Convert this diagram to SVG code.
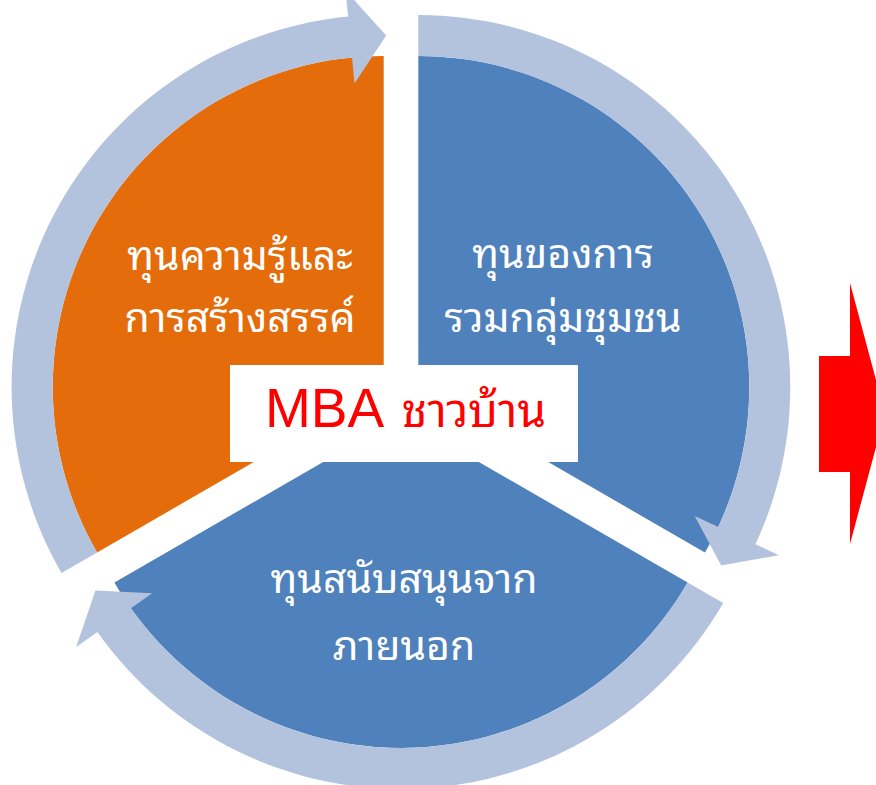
<svg xmlns="http://www.w3.org/2000/svg" width="876" height="785" viewBox="0 0 876 785">
<style>
.orange{fill:#E46C0A}
.blue{fill:#4F81BD}
.ring{fill:#B3C2DD}
.lbl{fill:#FFFFFF;font-family:"Noto Sans Thai Looped","Noto Sans Thai","Noto Sans",sans-serif;font-size:41px;text-anchor:middle}
.red{fill:#FF0000}
</style>
<rect width="876" height="785" fill="#FFFFFF"/>
<g id="node-knowledge">
<path class="orange" d="M383.7,387 L383.7,56 A331,331 0 0,0 97.1,552.5 Z"/>
<text class="lbl" x="240" y="270">ทุนความรู้และ</text>
<text class="lbl" x="240" y="332">การสร้างสรรค์</text>
</g>
<g id="node-community">
<path class="blue" d="M418.3,387 L418.3,56 A331,331 0 0,1 704.9,552.5 Z"/>
<text class="lbl" x="563" y="268">ทุนของการ</text>
<text class="lbl" x="563" y="332">รวมกลุ่มชุมชน</text>
</g>
<g id="node-external">
<path class="blue" d="M401,417 L687.6,582.5 A331,331 0 0,1 114.4,582.5 Z"/>
<text class="lbl" x="404" y="593">ทุนสนับสนุนจาก</text>
<text class="lbl" x="404" y="660">ภายนอก</text>
</g>
<g id="connectors">
<path class="ring" d="M61.5,573 A372,372 0 0,1 348.1,16.6 L345.6,-9.4 L386.2,35.5 L354.5,83.4 L352,57.5 A331,331 0 0,0 97.1,552.5 Z"/>
<path class="ring" d="M418.3,15 A372,372 0 0,1 755.4,544.2 L779,555.2 L721.2,565.4 L694.7,515.9 L718.3,526.9 A331,331 0 0,0 418.3,56 Z"/>
<path class="ring" d="M723.2,603 A372,372 0 0,1 97.4,632 L76.2,647 L95.4,590.6 L152.1,593.3 L130.9,608.3 A331,331 0 0,0 687.6,582.5 Z"/>
</g>
<g id="node-center">
<rect x="230" y="365" width="348" height="97" fill="#FFFFFF"/>
<text x="265" y="427" class="red" font-family="Liberation Sans, Arial, sans-serif" font-size="55">MBA</text>
<text x="474" y="427" class="red" font-family="Noto Sans Thai Looped, Noto Sans Thai, Noto Sans, sans-serif" font-size="46" text-anchor="middle">ชาวบ้าน</text>
</g>
<g id="node-next">
<path class="red" d="M819,356 L850,356 L850,283 L885,413.5 L850,544 L850,472 L819,472 Z"/>
</g>
</svg>
